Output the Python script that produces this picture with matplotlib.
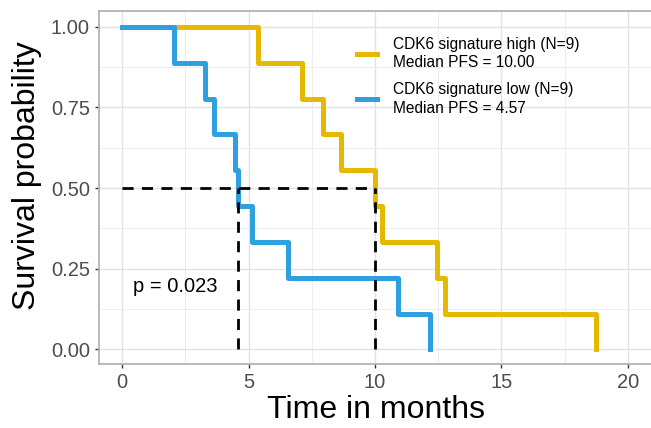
import matplotlib.pyplot as plt
import numpy as np

# Kaplan-Meier steps
high_t = [0, 5.38, 7.10, 7.95, 8.64, 10.00, 10.26, 12.44, 12.77, 18.73]
high_s = [1, 8/9, 7/9, 6/9, 5/9, 4/9, 3/9, 2/9, 1/9, 0]
low_t = [0, 2.05, 3.27, 3.64, 4.46, 4.57, 5.12, 6.57, 10.90, 12.18]
low_s = [1, 8/9, 7/9, 6/9, 5/9, 4/9, 3/9, 2/9, 1/9, 0]

median_high = 10.00
median_low = 4.57
p_value = "p = 0.023"
labels = ["CDK6 signature high (N=9)\nMedian PFS = 10.00",
          "CDK6 signature low (N=9)\nMedian PFS = 4.57"]
colors = ["#E7B800", "#2E9FDF"]

x_ticks = [0, 5, 10, 15, 20]
y_ticks = [0, 0.25, 0.5, 0.75, 1.0]
y_ticklabels = ["0.00", "0.25", "0.50", "0.75", "1.00"]

plt.rcParams['font.family'] = ['Liberation Sans', 'DejaVu Sans']

fig = plt.figure(figsize=(6.51, 4.28), dpi=100)
W, H = 651, 428
ax = fig.add_axes([99 / W, (428 - 364) / H, (653 - 99) / W, (364 - 11) / H])

# grid
ax.set_xticks(x_ticks)
ax.set_xticks([2.5, 7.5, 12.5, 17.5], minor=True)
ax.set_yticks(y_ticks)
ax.set_yticklabels(y_ticklabels)
ax.set_yticks([0.125, 0.375, 0.625, 0.875], minor=True)
ax.grid(which='major', color='#e2e2e2', lw=1.0)
ax.grid(which='minor', color='#ededed', lw=0.7)
ax.set_axisbelow(True)

# median lines
ax.plot([0, median_high], [0.5, 0.5], color='black', lw=2.0, dashes=(4, 3), zorder=3)
ax.plot([median_low, median_low], [0, 0.5], color='black', lw=2.0, dashes=(4, 3), zorder=3)
ax.plot([median_high, median_high], [0, 0.5], color='black', lw=2.0, dashes=(4, 3), zorder=3)

# curves
l1, = ax.step(high_t, high_s, where='post', color=colors[0], lw=3.6, zorder=2)
l2, = ax.step(low_t, low_s, where='post', color=colors[1], lw=3.6, zorder=2)

ax.text(0.43, 0.196, p_value, fontsize=14.5, ha='left', va='center')

ax.set_xlim(-0.92, 21.0)
ax.set_ylim(-0.045, 1.049)

for side in ['left', 'top', 'bottom']:
    ax.spines[side].set_color('#b3b3b3')
    ax.spines[side].set_linewidth(1.3)
ax.spines['right'].set_visible(False)

ax.tick_params(which='major', length=3, width=1.0, color='#333333',
               labelsize=14.5, labelcolor='#4d4d4d', pad=3.5)
ax.tick_params(which='minor', length=0)

ax.set_xlabel("Time in months", fontsize=23, labelpad=2)
ax.set_ylabel("Survival probability", fontsize=23)
ax.yaxis.set_label_coords(-0.103, 0.535)

leg = ax.legend([l1, l2], labels, loc='upper left',
                bbox_to_anchor=(357 / W, 1 - 36.5 / H), bbox_transform=fig.transFigure,
                frameon=False, fontsize=11.2, handlelength=1.3, handletextpad=1.0,
                labelspacing=0.75, borderpad=0, borderaxespad=0)
for t in leg.get_texts():
    t.set_linespacing(1.32)

fig.savefig("out.png", dpi=100)
